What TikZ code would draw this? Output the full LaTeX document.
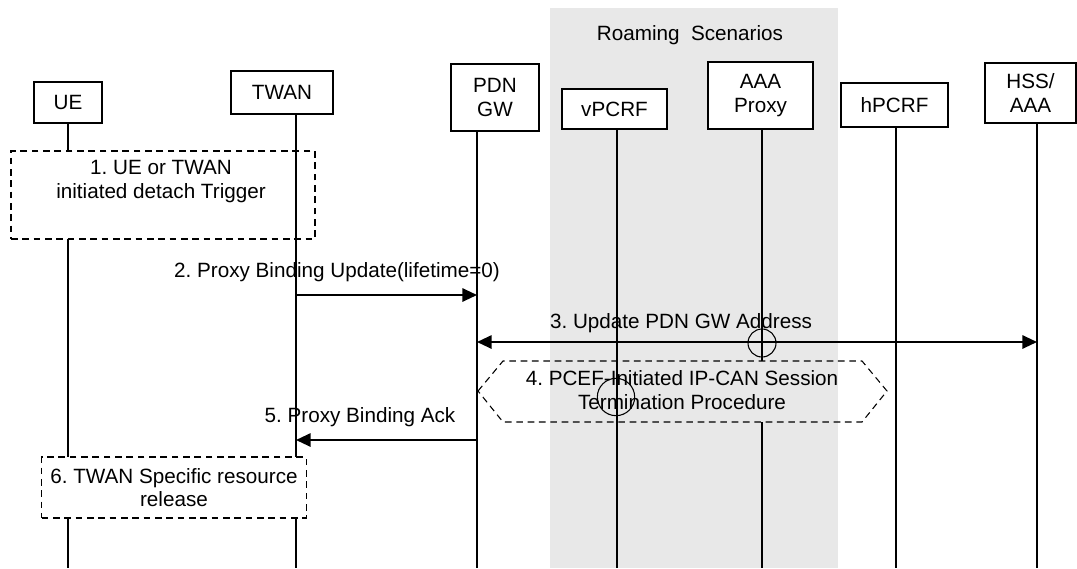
\documentclass[tikz,border=0pt]{standalone}
\usepackage{fontspec}
\setmainfont{Liberation Sans}
\frenchspacing
\usetikzlibrary{arrows.meta}
\definecolor{roamgray}{RGB}{232,232,232}
\tikzset{
  entity/.style={draw, line width=0.8pt, fill=white, align=center, inner sep=0pt},
  stepbox/.style={draw, dash pattern=on 5pt off 3.5pt, line width=0.8pt, fill=white, align=center, inner sep=0pt},
  lifeline/.style={line width=0.8pt},
  msg/.style={line width=1.5pt, >={Triangle[length=11pt,width=10pt]}},
}
\begin{document}
\begin{tikzpicture}[x=0.75pt, y=-0.75pt, font=\fontsize{15.5}{17.5}\selectfont]
			\useasboundingbox (0,0) rectangle (1077,568);
			\fill[roamgray] (550,8) rectangle (838,568);
			\node[inner sep=0pt] (roam) at (690,35) {Roaming\ \ Scenarios};
			
			% Entidades
			\node[entity, minimum width=51pt, minimum height=30.75pt] (ue) at (68,102.5) {UE};
			\node[entity, minimum width=76.5pt, minimum height=32.25pt] (twan) at (282,92.5) {TWAN};
			\node[entity, minimum width=66pt, minimum height=50.25pt] (pdn) at (495,97.5) {PDN\\GW};
			\node[entity, minimum width=78.75pt, minimum height=30pt] (vpcrf) at (614.5,109) {vPCRF};
			\node[entity, minimum width=78.75pt, minimum height=50.25pt] (aaa) at (760.5,95.5) {AAA\\Proxy};
			\node[entity, minimum width=80.25pt, minimum height=33pt] (hpcrf) at (894.5,105) {hPCRF};
			\node[entity, minimum width=68.25pt, minimum height=45pt] (hss) at (1030.5,93) {HSS/\\AAA};
			
			\coordinate (lUE) at (ue.south);
			\coordinate (lTWAN) at (twan.south -| 296,0);
			\coordinate (lPDN) at (pdn.south -| 477,0);
			\coordinate (lAAA) at (aaa.south -| 762,0);
			\coordinate (lHSS) at (hss.south -| 1037,0);
			
			\draw[lifeline] (lUE) -- (lUE |- 0,568);
			\node[stepbox, minimum width=228pt, minimum height=66pt] (s1) at (163,195) {};
			\node[align=center, inner sep=0pt] (t1) at (161,181.5) {1. UE or TWAN\\initiated detach Trigger};
			
			\draw[lifeline] (lTWAN) -- (lTWAN |- 0,568);
			\foreach \n/\x in {pdn/477, vpcrf/617, hpcrf/896, hss/1037} {
				\draw[lifeline] (\n.south -| \x,0) -- (\x,568);
			}
			\draw[lifeline] (lAAA) -- (lAAA |- 0,361) (lAAA |- 0,422) -- (lAAA |- 0,568);
			
			% Mensajes
			\node[inner sep=0pt] (t2) at (337,272) {2. Proxy Binding Update(lifetime=0)};
			\draw[msg, ->] (lTWAN |- 0,295) -- (lPDN |- 0,295);
			
			\node[inner sep=0pt] (t3) at (681,323) {3. Update PDN GW Address};
			\draw[msg, <->] (lPDN |- 0,342) -- (lHSS |- 0,342);
			\draw[lifeline] (lAAA |- 0,343) circle (10.5pt);
			
			\draw[lifeline, dash pattern=on 5pt off 3.5pt] (478,391) -- (503,361) -- (862,361) -- (887,391) -- (862,422) -- (503,422) -- cycle;
			\node[align=center, inner sep=0pt] (t4) at (682,390) {4. PCEF-Initiated IP-CAN Session\\Termination Procedure};
			\draw[lifeline] (616,397) circle (14pt);
			
			\node[inner sep=0pt] (t5) at (360,417) {5. Proxy Binding Ack};
			\draw[msg, ->] (lPDN |- 0,440) -- (lTWAN |- 0,440);
			
			\node[stepbox, minimum width=198.4pt, minimum height=45.75pt] (s6) at (174,487.5) {6. TWAN Specific resource\\release};
		\end{tikzpicture}
\end{document}
